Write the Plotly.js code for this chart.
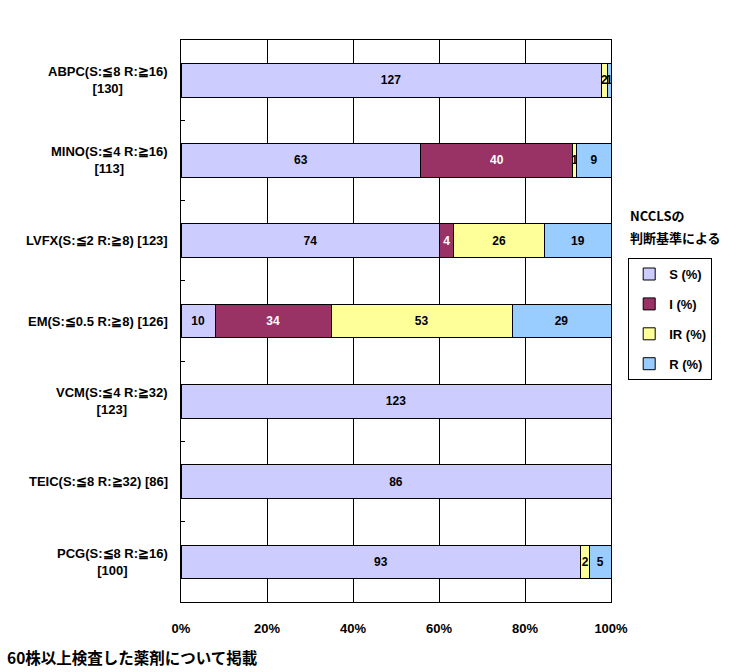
<!DOCTYPE html>
<html><head><meta charset="utf-8">
<script src="https://cdn.plot.ly/plotly-3.0.1.min.js"></script>
<style>body{margin:0;background:#fff}#c{width:738px;height:672px}</style>
</head><body><div id="c"></div>
<script>
const categories = ["ABPC(S:≦8 R:≧16)<br>[130]", "MINO(S:≦4 R:≧16)<br>[113]", "LVFX(S:≦2 R:≧8) [123]", "EM(S:≦0.5 R:≧8) [126]", "VCM(S:≦4 R:≧32)<br>[123]", "TEIC(S:≦8 R:≧32) [86]", "PCG(S:≦8 R:≧16)<br>[100]"];
const catKeys = ["ABPC", "MINO", "LVFX", "EM", "VCM", "TEIC", "PCG"];
const S  = [127, 63, 74, 10, 123, 86, 93];
const I  = [0, 40, 4, 34, 0, 0, 0];
const IR = [2, 1, 26, 53, 0, 0, 2];
const R  = [1, 9, 19, 29, 0, 0, 5];
const seriesNames = ["S (%)", "I (%)", "IR (%)", "R (%)"];
const seriesColors = ["#CCCCFF", "#993366", "#FFFF99", "#99CCFF"];
const textColors = ["#000000", "#FFFFFF", "#000000", "#000000"];
const xTickVals = [0, 20, 40, 60, 80, 100];
const xTickText = ["0%", "20%", "40%", "60%", "80%", "100%"];
const legendTitle = ["NCCLSの", "判断基準による"];

const FONT = "'Liberation Sans', Arial, sans-serif";
const traces = [S, I, IR, R].map((vals, k) => ({
  type: "bar", orientation: "h", name: seriesNames[k], legendgroup: "g" + k,
  x: vals, y: catKeys,
  text: vals.map(v => v === 0 ? "" : String(v)),
  textposition: "inside", insidetextanchor: "middle", textangle: 0, constraintext: "none",
  textfont: {family: FONT, size: 12, color: textColors[k], weight: "bold"},
  marker: {color: seriesColors[k], line: {color: "#000", width: 1}},
  hoverinfo: "none"
}));

const annotations = categories.map((c, i) => ({
  xref: "paper", yref: "y", x: -0.025, y: catKeys[i], xanchor: "right", yanchor: "middle",
  text: c, showarrow: false, align: "center",
  font: {family: FONT, size: 13, color: "#000", weight: "bold"}
}));
legendTitle.forEach((t, i) => annotations.push({
  xref: "paper", yref: "paper", x: 1.04, y: (602 - 215 - 22 * i) / 562, xanchor: "left", yanchor: "middle",
  text: t, showarrow: false, align: "left",
  font: {family: "'Noto Sans CJK JP', sans-serif", size: 13, color: "#000", weight: "bold"}
}));
annotations.push({
  xref: "paper", yref: "paper", x: -0.41, y: -0.097, xanchor: "left", yanchor: "middle",
  text: "60株以上検査した薬剤について掲載", showarrow: false, align: "left",
  font: {family: "'Noto Sans CJK JP', sans-serif", size: 15.5, color: "#000", weight: "bold"}
});

const layout = {
  width: 738, height: 672,
  margin: {l: 181, r: 127, t: 40, b: 70},
  paper_bgcolor: "#fff", plot_bgcolor: "#fff",
  barmode: "stack", barnorm: "percent", bargap: 0.58,
  showlegend: true,
  legend: {x: 1.04, y: 0.612, xanchor: "left", yanchor: "top",
    bordercolor: "#000", borderwidth: 1, bgcolor: "#fff",
    font: {family: FONT, size: 13, color: "#000", weight: "bold"},
    tracegroupgap: 10, itemwidth: 30, traceorder: "grouped"},
  xaxis: {range: [0, 100], tickvals: xTickVals, ticktext: xTickText,
    showgrid: true, gridcolor: "#000", gridwidth: 1, zeroline: false,
    showline: true, linecolor: "#000", mirror: true, ticks: "", ticklabelstandoff: 14,
    tickfont: {family: FONT, size: 13, color: "#000", weight: "bold"}},
  yaxis: {type: "category", autorange: "reversed", showticklabels: false,
    showline: true, linecolor: "#000", mirror: true, showgrid: false,
    ticks: "inside", tickson: "boundaries", ticklen: 4, tickcolor: "#000"},
  annotations: annotations
};
Plotly.newPlot("c", traces, layout, {staticPlot: true});
</script></body></html>
